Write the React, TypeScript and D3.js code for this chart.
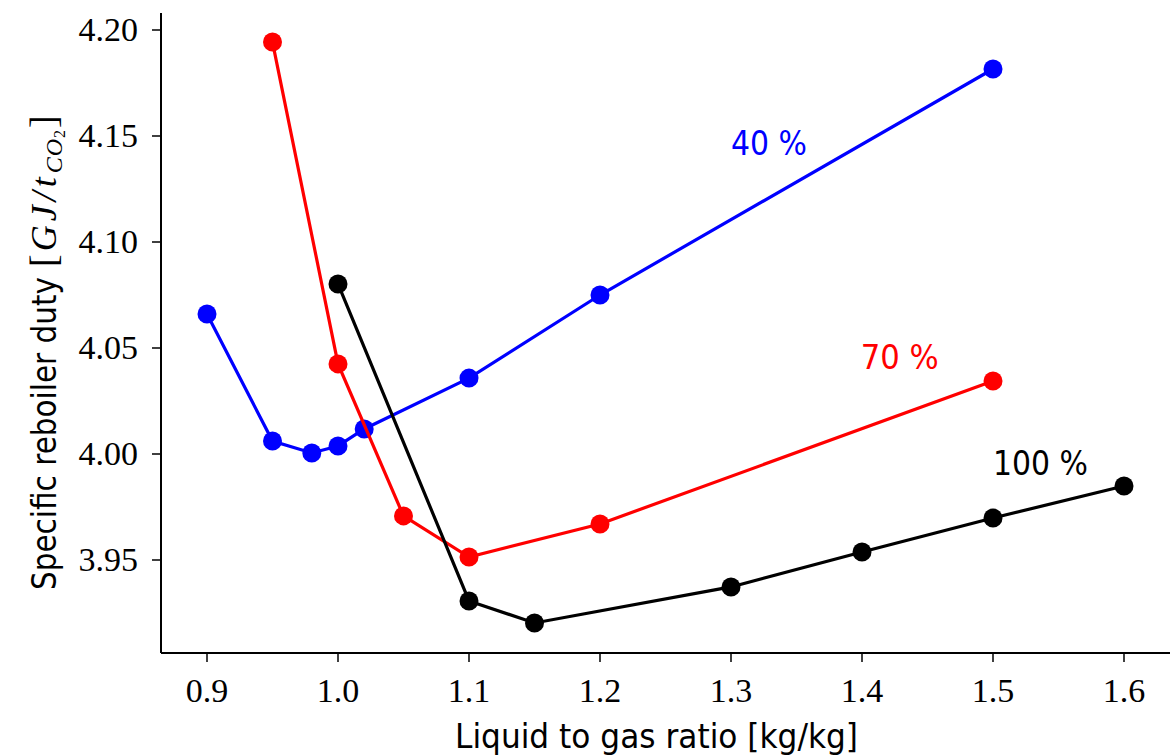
import React from "react";
import * as d3 from "d3";

const xTicks = [0.9, 1.0, 1.1, 1.2, 1.3, 1.4, 1.5, 1.6];
const yTicks = [3.95, 4.0, 4.05, 4.1, 4.15, 4.2];

const x40 = [0.9, 0.95, 0.98, 1.0, 1.02, 1.1, 1.2, 1.5];
const y40 = [4.066, 4.0061, 4.0005, 4.0038, 4.0118, 4.0358, 4.075, 4.1816];
const x70 = [0.95, 1.0, 1.05, 1.1, 1.2, 1.5];
const y70 = [4.1943, 4.0425, 3.9708, 3.9514, 3.967, 4.0344];
const x100 = [1.0, 1.1, 1.15, 1.3, 1.4, 1.5, 1.6];
const y100 = [4.0802, 3.9307, 3.9203, 3.9373, 3.9538, 3.9698, 3.9849];

const seriesNames = ["40 %", "70 %", "100 %"];
const seriesColors = ["#0000ff", "#ff0000", "#000000"];
const labelPos = [
  [1.30, 4.141],
  [1.399, 4.040],
  [1.5, 3.990],
];
const labelWidths = [76, 78, 95];

export default function App() {
  const W = 1175, H = 756;
  const x = d3.scaleLinear().domain([0.9, 1.6]).range([207, 1124]);
  const y = d3.scaleLinear().domain([3.95, 4.2]).range([560, 30]);
  const left = 161, right = 1170, top = 13, bottom = 653;
  const series = [
    { xs: x40, ys: y40 },
    { xs: x70, ys: y70 },
    { xs: x100, ys: y100 },
  ];
  const line = d3
    .line<[number, number]>()
    .x((d) => x(d[0]))
    .y((d) => y(d[1]));
  const serif = "'Liberation Serif', 'DejaVu Serif', serif";
  const sans = "'DejaVu Sans', sans-serif";
  return (
    <svg width={W} height={H} style={{ position: "absolute", left: 0, top: 0, background: "#fff" }}>
      {series.map((s, i) => {
        const pts = s.xs.map((v, j) => [v, s.ys[j]] as [number, number]);
        return (
          <g key={i}>
            <path d={line(pts) || ""} fill="none" stroke={seriesColors[i]} strokeWidth={3.2} />
            {pts.map((p, j) => (
              <circle key={j} cx={x(p[0])} cy={y(p[1])} r={9.5} fill={seriesColors[i]} />
            ))}
            <text
              x={x(labelPos[i][0])}
              y={y(labelPos[i][1])}
              fill={seriesColors[i]}
              fontFamily={sans}
              fontSize={33}
              textLength={labelWidths[i]}
              lengthAdjust="spacingAndGlyphs"
            >
              {seriesNames[i]}
            </text>
          </g>
        );
      })}
      <line x1={left} x2={left} y1={top} y2={bottom} stroke="#000" strokeWidth={2} />
      <line x1={left} x2={right} y1={bottom} y2={bottom} stroke="#000" strokeWidth={2} />
      {xTicks.map((t) => (
        <g key={t}>
          <line x1={x(t)} x2={x(t)} y1={bottom} y2={bottom + 9} stroke="#000" strokeWidth={1.5} />
          <text x={x(t)} y={bottom + 49} textAnchor="middle" fontFamily={serif} fontSize={34}>
            {t.toFixed(1)}
          </text>
        </g>
      ))}
      {yTicks.map((t) => (
        <g key={t}>
          <line x1={left - 9} x2={left} y1={y(t)} y2={y(t)} stroke="#000" strokeWidth={1.5} />
          <text x={left - 23} y={y(t) + 11} textAnchor="end" fontFamily={serif} fontSize={34}>
            {t.toFixed(2)}
          </text>
        </g>
      ))}
      <text
        x={455}
        y={748}
        fontFamily={sans}
        fontSize={34}
        textLength={403}
        lengthAdjust="spacingAndGlyphs"
      >
        Liquid to gas ratio [kg/kg]
      </text>
      <text transform={`translate(56,590) rotate(-90)`} fontFamily={sans} fontSize={34}>
        <tspan textLength={313} lengthAdjust="spacingAndGlyphs">Specific reboiler duty</tspan>
        <tspan fontFamily={serif} fontSize={38} dx={10}>[</tspan>
        <tspan fontFamily={serif} fontStyle="italic" fontSize={36} dx={3} letterSpacing={4}>GJ/t</tspan>
        <tspan fontFamily={serif} fontStyle="italic" fontSize={24} dy={6} letterSpacing={1}>CO</tspan>
        <tspan fontFamily={serif} fontSize={16} dy={3}>2</tspan>
        <tspan fontFamily={serif} fontSize={38} dy={-9} dx={2}>]</tspan>
      </text>
    </svg>
  );
}
